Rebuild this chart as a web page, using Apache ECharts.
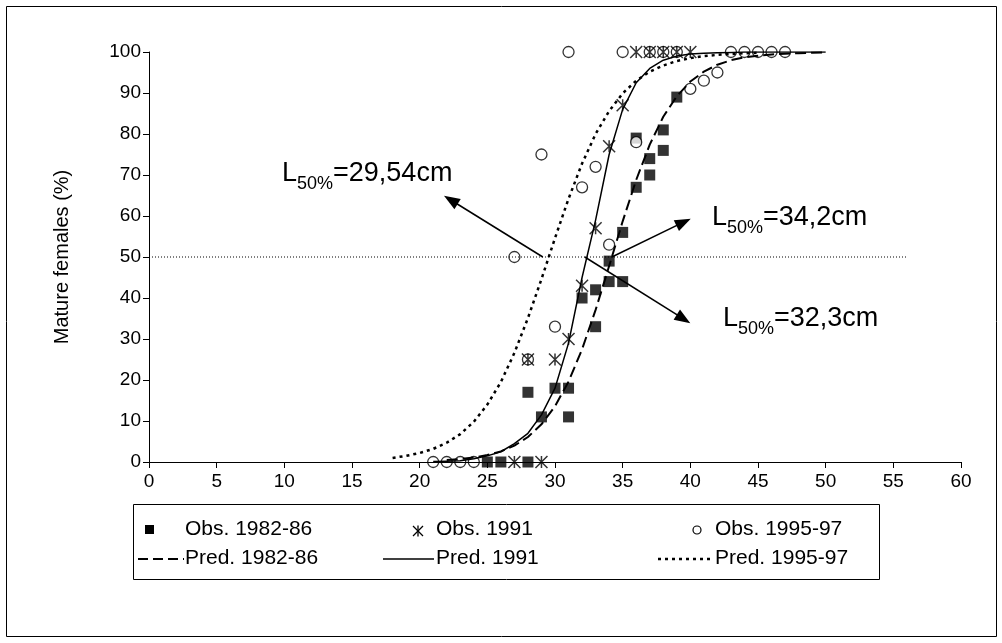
<!DOCTYPE html>
<html><head><meta charset="utf-8">
<script src="https://cdn.jsdelivr.net/npm/echarts@6/dist/echarts.min.js"></script>
<style>html,body{margin:0;padding:0;background:#fff}#c{width:1002px;height:643px}</style>
</head><body><div id="c"></div>
<script>
// ---- data ----
const obs8286 = [[25,0],[26,0],[28,0],[28,17],[29,11],[30,18],[31,18],[31,11],[32,40],[33,33],[33,42],[34,44],[35,44],[34,49],[35,56],[36,67],[36,79],[37,74],[37,70],[38,81],[38,76],[39,89]];
const obs1991 = [[27,0],[29,0],[28,25],[30,25],[31,30],[32,43],[33,57],[34,77],[35,87],[36,100],[37,100],[38,100],[39,100],[40,100]];
const obs9597 = [[21,0],[22,0],[23,0],[24,0],[27,50],[28,25],[29,75],[30,33],[31,100],[32,67],[33,72],[34,53],[35,100],[36,78],[37,100],[38,100],[39,100],[40,91],[41,93],[42,95],[43,100],[44,100],[45,100],[46,100],[47,100]];

const pred8286X = [22,23,24,25,26,27,28,29,30,31,32,33,34,35,36,37,38,39,40,41,42,43,44,45,46,47,48,49,50];
const pred8286Y = [0.5,0.7,1.1,1.7,2.6,4.0,6.1,9.2,13.6,19.6,27.5,37.1,47.8,58.7,68.8,77.4,84.2,89.2,92.8,95.2,96.9,98.0,98.7,99.1,99.4,99.6,99.7,99.8,99.9];
const pred1991X = [21,22,23,24,25,26,27,28,29,30,31,32,33,34,35,36,37,38,39,40,41,42,43,44,45,46,47,48,49,50];
const pred1991Y = [0.1,0.2,0.3,0.8,1.5,2.5,4.5,7,11.5,18,29,45,59,75,86,92.5,96,98,99,99.5,99.7,99.8,99.9,100,100,100,100,100,100,100];
const pred9597X = [18,19,20,21,22,23,24,25,26,27,28,29,30,31,32,33,34,35,36,37,38,39,40,41,42,43,44,45];
const pred9597Y = [1.0,1.5,2.2,3.2,4.7,6.8,9.8,14.0,19.5,26.6,35.1,44.6,54.6,64.2,72.8,80.0,85.6,89.9,93.0,95.2,96.7,97.8,98.5,99.0,99.3,99.5,99.7,99.8];

const refLine = [[0,50],[56,50]];
const arrows = [
  {from:[29.1,50], to:[22.3,63.9]},
  {from:[34.2,50], to:[39.5,58.5]},
  {from:[32.2,50], to:[39.5,34.9]}
];
const annotations = [
  {sub:'50%', main:'=29,54cm'},
  {sub:'50%', main:'=34,2cm'},
  {sub:'50%', main:'=32,3cm'}
];
const legendNames = ['Obs. 1982-86','Obs. 1991','Obs. 1995-97','Pred. 1982-86','Pred. 1991','Pred. 1995-97'];
const xTick = {min:0, max:60, interval:5};
const yTick = {min:0, max:100, interval:10};
const yTitle = 'Mature females (%)';

const zip = (xs, ys) => xs.map((x,i)=>[x, ys[i]]);
const FONT = '"Liberation Sans", Arial, sans-serif';
const STAR = 'path://M0,0L10,10M10,0L0,10M5,0L5,10';

const chart = echarts.init(document.getElementById('c'), null, {renderer:'canvas'});

const annPos = [[282,160],[712,204],[723,305]];
const richStyle = {
  a:{fontSize:27, fontFamily:FONT, lineHeight:31, verticalAlign:'top', fill:'#000'},
  b:{fontSize:18, fontFamily:FONT, lineHeight:18, verticalAlign:'top', padding:[15,0,0,0], fill:'#000'}
};
const seg = (x1,y1,x2,y2,w)=>({type:'line', silent:true, shape:{x1,y1,x2,y2}, style:{stroke:'#000', lineWidth:w}});
const LF = '21px '+FONT;

const graphic = [
  {type:'rect', silent:true, shape:{x:6.5,y:6.5,width:990,height:630}, style:{fill:'none', stroke:'#000', lineWidth:1}},
  {type:'text', silent:true, x:62, y:257, rotation:Math.PI/2,
   style:{text:yTitle, font:'20px '+FONT, fill:'#000', align:'center', verticalAlign:'middle'}},
  // legend box
  {type:'rect', silent:true, shape:{x:133.5,y:504.5,width:746,height:75}, style:{fill:'#fff', stroke:'#000', lineWidth:1}},
  {type:'rect', silent:true, shape:{x:145,y:525,width:9,height:9}, style:{fill:'#000'}},
  {type:'text', silent:true, x:185, y:529, style:{text:legendNames[0], font:LF, fill:'#000', verticalAlign:'middle'}},
  seg(413,526,423,536,1.3), seg(423,526,413,536,1.3), seg(418,525.5,418,536.5,1.3),
  {type:'text', silent:true, x:436, y:529, style:{text:legendNames[1], font:LF, fill:'#000', verticalAlign:'middle'}},
  {type:'circle', silent:true, shape:{cx:697,cy:530,r:4}, style:{fill:'#fff', stroke:'#000', lineWidth:1.2}},
  {type:'text', silent:true, x:715, y:529, style:{text:legendNames[2], font:LF, fill:'#000', verticalAlign:'middle'}},
  {type:'line', silent:true, shape:{x1:138,y1:559,x2:184,y2:559}, style:{stroke:'#000', lineWidth:2, lineDash:[10,5]}},
  {type:'text', silent:true, x:185, y:558, style:{text:legendNames[3], font:LF, fill:'#000', verticalAlign:'middle'}},
  {type:'line', silent:true, shape:{x1:383,y1:559,x2:434,y2:559}, style:{stroke:'#000', lineWidth:1.5}},
  {type:'text', silent:true, x:436, y:558, style:{text:legendNames[4], font:LF, fill:'#000', verticalAlign:'middle'}},
  {type:'line', silent:true, shape:{x1:658,y1:559,x2:713,y2:559}, style:{stroke:'#000', lineWidth:2.5, lineDash:[3,4]}},
  {type:'text', silent:true, x:715, y:558, style:{text:legendNames[5], font:LF, fill:'#000', verticalAlign:'middle'}}
];
annotations.forEach((a,i)=>{
  graphic.push({type:'text', silent:true, x:annPos[i][0], y:annPos[i][1],
    style:{text:'{a|L}{b|'+a.sub+'}{a|'+a.main+'}', rich:richStyle, align:'left', verticalAlign:'top'}});
});

const option = {
  animation:false,
  backgroundColor:'#fff',
  grid:{left:149, right:41, top:52, bottom:181, containLabel:false},
  xAxis:{type:'value', min:xTick.min, max:xTick.max, interval:xTick.interval, z:10,
    axisLine:{show:true, onZero:false, lineStyle:{color:'#000', width:1}},
    axisTick:{show:true, length:6, lineStyle:{color:'#000'}},
    splitLine:{show:false},
    axisLabel:{fontSize:19, color:'#000', fontFamily:FONT, margin:10}},
  yAxis:{type:'value', min:yTick.min, max:yTick.max, interval:yTick.interval,
    axisLine:{show:true, onZero:false, lineStyle:{color:'#000', width:1}},
    axisTick:{show:true, length:6, lineStyle:{color:'#000'}},
    splitLine:{show:false},
    axisLabel:{fontSize:19, color:'#000', fontFamily:FONT, margin:8}},
  graphic: graphic,
  series:[
    {name:legendNames[0], type:'scatter', data:obs8286, symbol:'rect', symbolSize:11, z:3,
      itemStyle:{color:'#000'}},
    {name:legendNames[2], type:'scatter', data:obs9597, symbol:'circle', symbolSize:11, z:4,
      itemStyle:{color:'#fff', borderColor:'#000', borderWidth:1.3}},
    {name:legendNames[1], type:'scatter', data:obs1991, symbol:STAR, symbolSize:12, z:5,
      itemStyle:{color:'#000', borderColor:'#000', borderWidth:1.5}},
    {name:legendNames[3], type:'line', data:zip(pred8286X,pred8286Y), symbol:'none', z:6,
      lineStyle:{color:'#000', width:2, type:[11,5]}},
    {name:legendNames[4], type:'line', data:zip(pred1991X,pred1991Y), symbol:'none', z:6,
      lineStyle:{color:'#000', width:1.5, type:'solid'}},
    {name:legendNames[5], type:'line', data:zip(pred9597X,pred9597Y), symbol:'none', z:6,
      lineStyle:{color:'#000', width:2.5, type:[3,4]}},
    {name:'ref', type:'line', data:refLine, symbol:'none', z:7, silent:true,
      lineStyle:{color:'#000', width:1, type:[1,2]},
      markLine:{silent:true, animation:false, symbol:['none','triangle'], symbolSize:[12,16],
        label:{show:false},
        lineStyle:{color:'#000', width:1.5, type:'solid'},
        itemStyle:{color:'#000'},
        data: arrows.map(a=>[{coord:a.from},{coord:a.to}])}}
  ]
};
chart.setOption(option);
</script></body></html>
